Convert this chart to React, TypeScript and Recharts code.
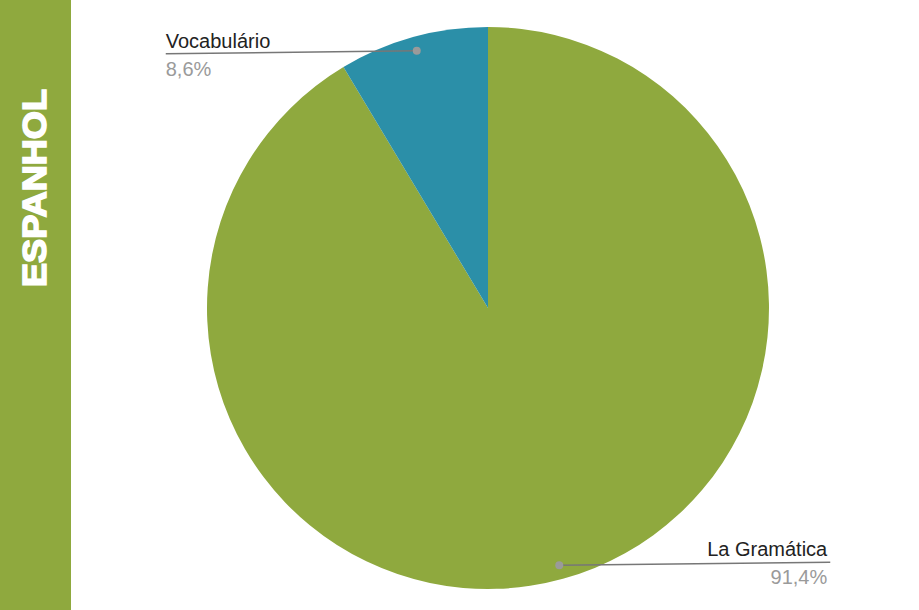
import { Cell, Pie, PieChart } from "recharts";

const CATEGORIES = ["La Gramática", "Vocabulário"];
const SHARES = [91.4, 8.6];
const COLORS = ["#8fa93e", "#2b8fa8"];
const SIDE_TITLE = "ESPANHOL";

const data = CATEGORIES.map((name, i) => ({ name, value: SHARES[i] }));

const RADIAN = Math.PI / 180;
const FONT = "Liberation Sans, Arial, sans-serif";

function renderLabel(props: any) {
  const { cx, cy, outerRadius, midAngle, index, name, value } = props;
  const r = outerRadius * 0.95;
  const dx = cx + Math.cos(-midAngle * RADIAN) * r;
  const dy = cy + Math.sin(-midAngle * RADIAN) * r;
  const toRight = Math.cos(-midAngle * RADIAN) >= 0;
  const len = toRight ? 271 : 251;
  const ex = toRight ? dx + len : dx - len;
  const ey = toRight ? dy - 3 : dy + 3;
  const anchor = toRight ? "end" : "start";
  const tx = toRight ? ex - 3 : ex;
  const pct = value.toFixed(1).replace(".", ",") + "%";
  return (
    <g key={`lbl-${index}`}>
      <line x1={dx} y1={dy} x2={ex} y2={ey} stroke="#777" strokeWidth={1.5} />
      <circle cx={dx} cy={dy} r={4} fill="#9a9a9a" />
      <text x={tx} y={ey - 6} textAnchor={anchor} fontSize={20} fill="#222" fontFamily={FONT}>
        {name}
      </text>
      <text x={tx} y={ey + 22} textAnchor={anchor} fontSize={20} fill="#9a9a9a" fontFamily={FONT}>
        {pct}
      </text>
    </g>
  );
}

export default function App() {
  return (
    <div style={{ position: "fixed", left: 0, top: 0, width: 919, height: 610, background: "#fff" }}>
      <div
        style={{
          position: "absolute",
          left: 0,
          top: 0,
          width: 71,
          height: 610,
          background: COLORS[0],
        }}
      >
        <svg width={71} height={610}>
          <text
            transform="translate(46 287) rotate(-90)"
            fill="#fff"
            stroke="#fff"
            strokeWidth={1.6}
            fontSize={33}
            fontWeight={900}
            fontFamily={FONT}
            textLength={198}
            lengthAdjust="spacingAndGlyphs"
          >
            {SIDE_TITLE}
          </text>
        </svg>
      </div>
      <PieChart
        width={919}
        height={610}
        margin={{ top: 0, right: 0, bottom: 0, left: 0 }}
        style={{ position: "absolute", left: 0, top: 0 }}
      >
        <Pie
          data={data}
          dataKey="value"
          nameKey="name"
          cx={488}
          cy={308}
          outerRadius={281}
          startAngle={90}
          endAngle={-270}
          stroke="none"
          labelLine={false}
          label={renderLabel}
          isAnimationActive={false}
        >
          {data.map((d, i) => (
            <Cell key={d.name} fill={COLORS[i]} />
          ))}
        </Pie>
      </PieChart>
    </div>
  );
}
